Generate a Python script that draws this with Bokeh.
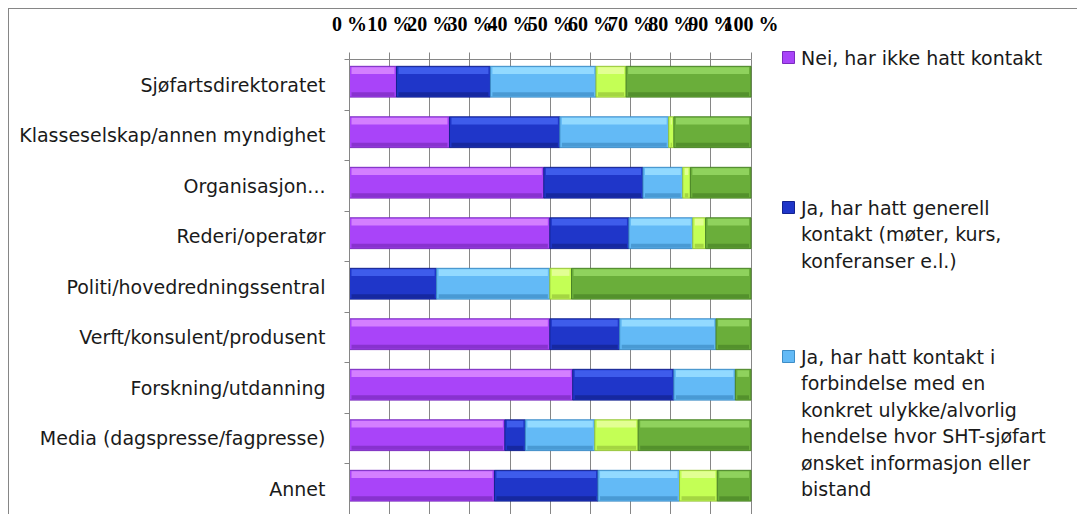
from bokeh.plotting import figure
from bokeh.models import Range1d, FixedTicker
from bokeh.layouts import row
from bokeh.core.properties import value
from bokeh.embed import file_html
from bokeh.resources import INLINE

# ---------------- data ----------------
categories = [
    "Sjøfartsdirektoratet",
    "Klasseselskap/annen myndighet",
    "Organisasjon...",
    "Rederi/operatør",
    "Politi/hovedredningssentral",
    "Verft/konsulent/produsent",
    "Forskning/utdanning",
    "Media (dagspresse/fagpresse)",
    "Annet",
]
nei_ingen_kontakt = [11.7, 24.9, 48.4, 49.9, 0.0, 49.9, 55.6, 38.7, 36.1]
ja_generell = [23.4, 27.5, 24.7, 19.7, 21.7, 17.4, 25.2, 5.1, 25.8]
ja_konkret = [26.3, 27.1, 9.9, 15.9, 28.2, 24.0, 15.3, 17.3, 20.3]
ja_begge = [7.5, 1.3, 1.9, 3.2, 5.4, 0.0, 0.0, 10.8, 9.4]
annet_svar = [31.1, 19.2, 15.1, 11.3, 44.7, 8.7, 3.9, 28.1, 8.4]

x_ticks = [0, 10, 20, 30, 40, 50, 60, 70, 80, 90, 100]
x_tick_labels = ["0 %", "10 %", "20 %", "30 %", "40 %", "50 %", "60 %", "70 %", "80 %", "90 %", "100 %"]

legend_entries = [
    ["Nei, har ikke hatt kontakt"],
    ["Ja, har hatt generell", "kontakt (møter, kurs,", "konferanser e.l.)"],
    ["Ja, har hatt kontakt i", "forbindelse med en", "konkret ulykke/alvorlig",
     "hendelse hvor SHT-sjøfart", "ønsket informasjon eller", "bistand"],
]

# ---------------- styles / layout ----------------
series = [nei_ingen_kontakt, ja_generell, ja_konkret, ja_begge, annet_svar]
body = ["#A944F9", "#1F36C9", "#63BAF6", "#C4FF55", "#6AAE3A"]
light = ["#D47FFF", "#3E5CEB", "#92DAFF", "#E2FF93", "#8FD25D"]
dark = ["#7A2BBE", "#13228F", "#3E8DC6", "#97C43A", "#4A8427"]

GRID = "#868686"
FONT = "DejaVu Sans"
OFF_X, OFF_Y = 9, 9            # page position of the figures (margin + border)
W1, H = 771, 505               # main figure
W2 = 297                       # legend figure
LEFT, TOP = 340, 50            # frame offsets inside main figure
PX_PER_PCT = 4.015
BAND = 50.5

x_end = (W1 - LEFT) / PX_PER_PCT
y_len = (H - TOP) / BAND

p = figure(width=W1, height=H, output_backend="svg", toolbar_location=None,
           x_range=Range1d(0, x_end), y_range=Range1d(y_len, 0),
           x_axis_location="above", y_axis_location="left",
           min_border_left=LEFT, min_border_top=TOP,
           min_border_right=0, min_border_bottom=0)
p.outline_line_color = None
p.background_fill_color = "white"
p.border_fill_color = "white"

# grid
p.ygrid.visible = False
p.xgrid.ticker = FixedTicker(ticks=x_ticks)
p.xgrid.grid_line_color = GRID
p.xgrid.grid_line_width = 1

# top axis
xa = p.xaxis[0]
xa.ticker = FixedTicker(ticks=x_ticks)
xa.bounds = (0, 100)
xa.major_label_overrides = {float(t): lab for t, lab in zip(x_ticks, x_tick_labels)}
xa.major_tick_in = 0
xa.major_tick_out = 7
xa.minor_tick_in = 0
xa.minor_tick_out = 0
xa.axis_line_color = GRID
xa.major_tick_line_color = GRID
xa.major_label_text_font = "Liberation Serif"
xa.major_label_text_font_style = "bold"
xa.major_label_text_font_size = "20px"
xa.major_label_text_color = "black"
xa.major_label_standoff = 18

# left axis
n = len(categories)
centers = [i + 0.5 for i in range(n)]
bounds_y = [float(i) for i in range(n + 1)]
ya = p.yaxis[0]
ya.ticker = FixedTicker(ticks=centers, minor_ticks=bounds_y)
ya.major_label_overrides = {c: cat for c, cat in zip(centers, categories)}
ya.major_tick_in = 0
ya.major_tick_out = 0
ya.minor_tick_in = 0
ya.minor_tick_out = 5
ya.minor_tick_line_color = GRID
ya.axis_line_color = GRID
ya.major_label_text_font = FONT
ya.major_label_text_font_size = "19px"
ya.major_label_text_color = "#1a1a1a"
ya.major_label_standoff = 19

# bars (stacked, with a simple bevel look)
BAR_H = 0.61
SHIFT = -0.06
TOP_STRIP = 0.13
BOT_STRIP = 0.08
cum = [0.0] * n
for k, vals in enumerate(series):
    ys, ls, rs = [], [], []
    for i, v in enumerate(vals):
        if v > 0:
            ys.append(centers[i] + SHIFT)
            ls.append(cum[i])
            rs.append(cum[i] + v)
        cum[i] += v
    p.hbar(y=ys, left=ls, right=rs, height=BAR_H, fill_color=body[k],
           line_color=dark[k], line_width=1)
    p.hbar(y=[y - BAR_H / 2 + TOP_STRIP / 2 + 0.02 for y in ys],
           left=[l + 0.5 for l in ls], right=[r - 0.5 for r in rs],
           height=TOP_STRIP, fill_color=light[k], line_color=None)
    p.hbar(y=[y + BAR_H / 2 - BOT_STRIP / 2 - 0.015 for y in ys],
           left=[l + 0.5 for l in ls], right=[r - 0.5 for r in rs],
           height=BOT_STRIP, fill_color=dark[k], line_color=None, fill_alpha=0.7)

# ---------------- legend panel (pixel coordinates) ----------------
lg = figure(width=W2, height=H, output_backend="svg", toolbar_location=None,
            x_range=Range1d(0, W2), y_range=Range1d(H, 0),
            x_axis_location=None, y_axis_location=None,
            min_border=0, min_border_left=0, min_border_right=0,
            min_border_top=0, min_border_bottom=0)
lg.outline_line_color = None
for g in lg.grid:
    g.visible = False
for fig in (p, lg):
    try:
        fig.frame_align = False
    except Exception:
        pass

LG_X0 = OFF_X + W1              # page x of legend panel's left edge
entry_top = [57, 207, 356]     # page y of first line of each entry
LINE = 26.5
sq_x, sq_y, sq_c, sq_l = [], [], [], []
tx, ty, tt = [], [], []
for k, lines in enumerate(legend_entries):
    cy = entry_top[k] - OFF_Y
    sq_x.append(788 - LG_X0)
    sq_y.append(cy)
    sq_c.append(body[k])
    sq_l.append(dark[k])
    for j, line in enumerate(lines):
        tx.append(800.5 - LG_X0)
        ty.append(cy + j * LINE)
        tt.append(line)
lg.rect(x=sq_x, y=sq_y, width=12, height=12, fill_color=sq_c, line_color=sq_l)
lg.text(x=tx, y=ty, text=tt, text_font=value(FONT), text_font_size=value("19px"),
        text_color="#1a1a1a", text_align="left", text_baseline="middle")

root = row(p, lg, styles={"margin-left": "8px", "margin-top": "8px",
                          "border-left": "1px solid #868686",
                          "border-top": "1px solid #868686"})

open("out.html", "w").write(file_html(root, INLINE))
